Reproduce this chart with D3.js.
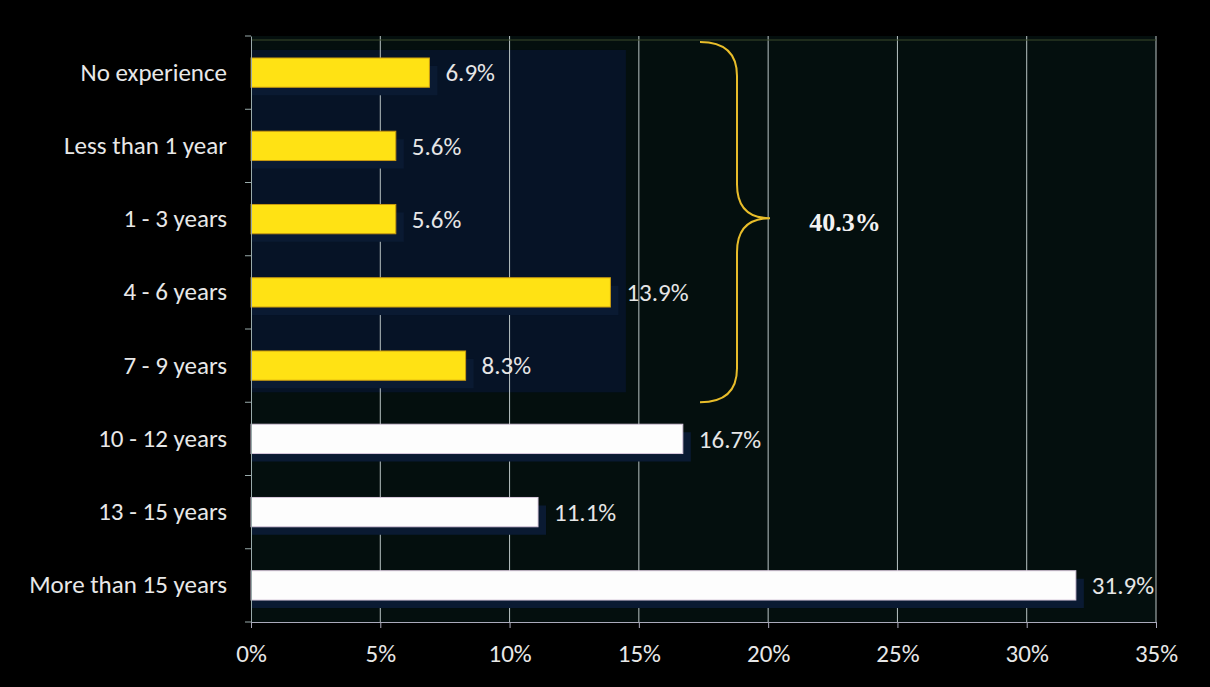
<!DOCTYPE html>
<html>
<head>
<meta charset="utf-8">
<script src="https://cdn.jsdelivr.net/npm/d3@7"></script>
<style>
  body { margin: 0; background: #000; }
  svg { display: block; }
</style>
</head>
<body>
<div id="chart"></div>
<script>
const width = 1210;
const height = 687;

const categories = ["No experience", "Less than 1 year", "1 - 3 years", "4 - 6 years",
  "7 - 9 years", "10 - 12 years", "13 - 15 years", "More than 15 years"];
const values = [6.9, 5.6, 5.6, 13.9, 8.3, 16.7, 11.1, 31.9];
const groups = ["low", "low", "low", "low", "low", "high", "high", "high"];
const xTicks = [0, 5, 10, 15, 20, 25, 30, 35];
const bracketLabel = "40.3%";

const margin = { top: 36, right: 54, bottom: 65, left: 251 };
const fontFamily = "Calibri, Carlito, 'Open Sans', sans-serif";

const svg = d3.select("#chart").append("svg")
  .attr("width", width)
  .attr("height", height);

svg.append("rect").attr("width", width).attr("height", height).attr("fill", "#000");

const x = d3.scaleLinear()
  .domain([0, 35])
  .range([margin.left, width - margin.right]);

const y = d3.scaleBand()
  .domain(categories)
  .range([margin.top, height - margin.bottom])
  .paddingInner(0.6)
  .paddingOuter(0.3);

const step = y.step();
const plotTop = margin.top;
const plotBottom = height - margin.bottom;

// plot background
svg.append("rect")
  .attr("x", x(0)).attr("y", plotTop)
  .attr("width", x(35) - x(0)).attr("height", plotBottom - plotTop)
  .attr("fill", "#040f0e");

// dark navy shading behind the first group
const lowCats = categories.filter((c, i) => groups[i] === "low");
svg.append("rect")
  .attr("x", x(0)).attr("y", y(lowCats[0]) - 8)
  .attr("width", x(14.5) - x(0))
  .attr("height", y(lowCats[lowCats.length - 1]) + y.bandwidth() + 12 - (y(lowCats[0]) - 8))
  .attr("fill", "#061326");

// gridlines
svg.append("g")
  .selectAll("line")
  .data(xTicks.slice(1))
  .join("line")
  .attr("x1", d => x(d)).attr("x2", d => x(d))
  .attr("y1", plotTop).attr("y2", plotBottom)
  .attr("stroke", "#b9c4c4")
  .attr("stroke-width", 1);

// top border of plot
svg.append("line")
  .attr("x1", x(0)).attr("x2", x(35))
  .attr("y1", plotTop + 4).attr("y2", plotTop + 4)
  .attr("stroke", "#3a4a2a").attr("stroke-width", 1);

// bar shadows
svg.append("g")
  .selectAll("rect")
  .data(categories)
  .join("rect")
  .attr("x", x(0))
  .attr("y", d => y(d) + 8)
  .attr("width", (d, i) => x(values[i]) - x(0) + 8)
  .attr("height", y.bandwidth())
  .attr("fill", "#0a1a32");

// bars
svg.append("g")
  .selectAll("rect")
  .data(categories)
  .join("rect")
  .attr("x", x(0))
  .attr("y", d => y(d))
  .attr("width", (d, i) => x(values[i]) - x(0))
  .attr("height", y.bandwidth())
  .attr("fill", (d, i) => groups[i] === "low" ? "#ffe214" : "#fdfdfd")
  .attr("stroke", (d, i) => groups[i] === "low" ? "#c89a10" : "#d8c8dc")
  .attr("stroke-width", 1);

// value labels
svg.append("g")
  .selectAll("text")
  .data(categories)
  .join("text")
  .attr("x", (d, i) => x(values[i]) + 16)
  .attr("y", d => y(d) + y.bandwidth() / 2)
  .attr("dy", "0.35em")
  .attr("font-family", fontFamily)
  .attr("font-size", 25)
  .attr("fill", "#e6e6e6")
  .text((d, i) => values[i].toFixed(1) + "%");

// y axis
const yAxis = svg.append("g")
  .attr("transform", `translate(${x(0)},0)`)
  .call(d3.axisLeft(y).tickSize(0).tickPadding(24));
yAxis.select(".domain").attr("stroke", "#9aa").attr("stroke-width", 1);
yAxis.selectAll("text")
  .attr("font-family", fontFamily)
  .attr("font-size", 25)
  .attr("fill", "#e8e8e8");

// category separators on the y axis
svg.append("g")
  .selectAll("line")
  .data(d3.range(categories.length + 1))
  .join("line")
  .attr("x1", x(0) - 6).attr("x2", x(0))
  .attr("y1", i => plotTop + i * step)
  .attr("y2", i => plotTop + i * step)
  .attr("stroke", "#9aa");

// x axis
const xAxis = svg.append("g")
  .attr("transform", `translate(0,${plotBottom})`)
  .call(d3.axisBottom(x).tickValues(xTicks).tickSize(6).tickPadding(16)
    .tickFormat(d => d + "%"));
xAxis.select(".domain").attr("stroke", "#aab").attr("stroke-width", 1);
xAxis.selectAll(".tick line").attr("stroke", "#aab");
xAxis.selectAll("text")
  .attr("font-family", fontFamily)
  .attr("font-size", 25)
  .attr("fill", "#e8e8e8");

// curly bracket over the first group
const bTop = y(lowCats[0]) - 16;
const bBot = y(lowCats[lowCats.length - 1]) + y.bandwidth() + 22;
const bMid = (bTop + bBot) / 2 - 4;
const bx0 = 700, bx1 = 737, bTip = 770;
const r = 34;
const bracket = d3.path();
bracket.moveTo(bx0, bTop);
bracket.quadraticCurveTo(bx1, bTop, bx1, bTop + r);
bracket.lineTo(bx1, bMid - r);
bracket.quadraticCurveTo(bx1, bMid, bTip, bMid);
bracket.quadraticCurveTo(bx1, bMid, bx1, bMid + r);
bracket.lineTo(bx1, bBot - r);
bracket.quadraticCurveTo(bx1, bBot, bx0, bBot);
svg.append("path")
  .attr("d", bracket.toString())
  .attr("fill", "none")
  .attr("stroke", "#e8bd2a")
  .attr("stroke-width", 2);

svg.append("text")
  .attr("x", 845)
  .attr("y", bMid + 4)
  .attr("dy", "0.35em")
  .attr("text-anchor", "middle")
  .attr("font-family", "'Liberation Serif', 'Times New Roman', serif")
  .attr("font-weight", "bold")
  .attr("font-size", 26)
  .attr("fill", "#f2f2f2")
  .text(bracketLabel);
</script>
</body>
</html>
